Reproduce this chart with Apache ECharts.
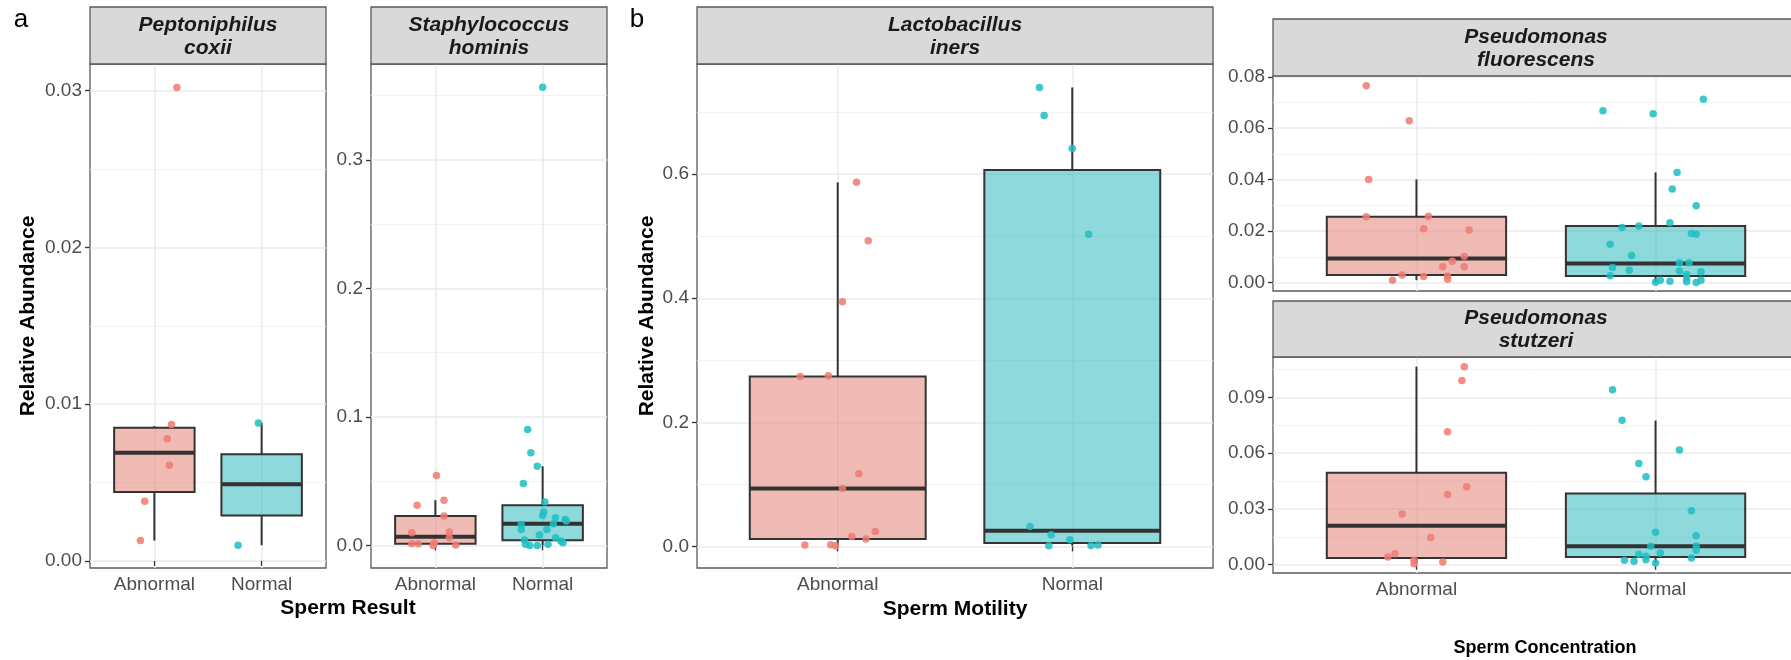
<!DOCTYPE html>
<html><head><meta charset="utf-8">
<script src="https://cdn.jsdelivr.net/npm/echarts@6/dist/echarts.min.js"></script>
<style>html,body{margin:0;padding:0;background:#fff}#c{width:1791px;height:660px}</style>
</head><body><div id="c"></div><script>
// ---------------- DATA ----------------
const categories = ['Abnormal', 'Normal'];

// a) Peptoniphilus coxii  (Sperm Result)
const peptAbnVals = [0.0302, 0.0087, 0.0078, 0.0061, 0.0038, 0.0013];
const peptAbnJit  = [0.21, 0.16, 0.12, 0.14, -0.09, -0.13];
const peptNorVals = [0.0088, 0.0010];
const peptNorJit  = [-0.03, -0.22];
const peptAbnBox  = [0.0013, 0.0044, 0.0069, 0.0085, 0.0086]; // min,q1,median,q3,max(whisker)
const peptNorBox  = [0.0010, 0.0029, 0.0049, 0.0068, 0.0088];
const peptTicks = [0, 0.01, 0.02, 0.03];
const peptTickLabels = ['0.00', '0.01', '0.02', '0.03'];

// a) Staphylococcus hominis
const staphAbnVals = [0.0544, 0.0313, 0.0352, 0.0228, 0.0098, 0.0104, 0.0060, 0.0013, 0.0013, 0.0000, 0.0020, 0.0003];
const staphAbnJit  = [0.01, -0.17, 0.08, 0.08, -0.22, 0.13, 0.13, -0.22, -0.16, -0.02, -0.01, 0.19];
const staphNorVals = [0.3565, 0.0901, 0.0720, 0.0616, 0.0482, 0.0337, 0.0259, 0.0233, 0.0215, 0.0202, 0.0189, 0.0163, 0.0168, 0.0124, 0.0124, 0.0080, 0.0041, 0.0060, 0.0034, 0.0021, 0.0008, 0.0000, 0.0000, 0.0008];
const staphNorJit  = [0.00, -0.14, -0.11, -0.05, -0.18, 0.02, 0.01, 0.00, 0.12, 0.21, 0.22, -0.20, 0.10, -0.20, 0.04, -0.03, -0.17, 0.12, 0.17, 0.19, -0.16, -0.12, -0.05, 0.05];
const staphAbnBox  = [0.0000, 0.0013, 0.0067, 0.0228, 0.0352];
const staphNorBox  = [0.0000, 0.0039, 0.0168, 0.0313, 0.0616];
const staphTicks = [0, 0.1, 0.2, 0.3];
const staphTickLabels = ['0.0', '0.1', '0.2', '0.3'];

// b) Lactobacillus iners (Sperm Motility)
const lactoAbnVals = [0.5868, 0.4928, 0.3945, 0.2738, 0.2749, 0.1170, 0.0934, 0.0242, 0.0161, 0.0119, 0.0022, 0.0027, 0.0011];
const lactoAbnJit  = [0.08, 0.13, 0.02, -0.16, -0.04, 0.09, 0.02, 0.16, 0.06, 0.12, -0.14, -0.03, -0.01];
const lactoNorVals = [0.7398, 0.6947, 0.6415, 0.5030, 0.0322, 0.0188, 0.0108, 0.0010, 0.0013, 0.0021];
const lactoNorJit  = [-0.14, -0.12, 0.00, 0.07, -0.18, -0.09, -0.01, -0.10, 0.08, 0.11];
const lactoAbnBox  = [0.0011, 0.0119, 0.0934, 0.2738, 0.5868];
const lactoNorBox  = [0.0010, 0.0055, 0.0253, 0.6066, 0.7398];
const lactoTicks = [0, 0.2, 0.4, 0.6];
const lactoTickLabels = ['0.0', '0.2', '0.4', '0.6'];

// b) Pseudomonas fluorescens (Sperm Concentration)
const fluorAbnVals = [0.0765, 0.0629, 0.0401, 0.0256, 0.0258, 0.0209, 0.0204, 0.0102, 0.0083, 0.0061, 0.0061, 0.0029, 0.0023, 0.0025, 0.0013, 0.0009];
const fluorAbnJit  = [-0.21, -0.03, -0.20, -0.21, 0.05, 0.03, 0.22, 0.20, 0.15, 0.11, 0.20, -0.06, 0.03, 0.13, 0.13, -0.10];
const fluorNorVals = [0.0668, 0.0656, 0.0713, 0.0428, 0.0364, 0.0298, 0.0232, 0.0220, 0.0214, 0.0191, 0.0188, 0.0149, 0.0105, 0.0077, 0.0077, 0.0058, 0.0048, 0.0045, 0.0042, 0.0031, 0.0026, 0.0016, 0.0009, 0.0005, 0.0001, 0.0003, 0.0000, 0.0009];
const fluorNorJit  = [-0.22, -0.01, 0.20, 0.09, 0.07, 0.17, 0.06, -0.07, -0.14, 0.15, 0.17, -0.19, -0.10, 0.10, 0.14, -0.18, -0.11, 0.10, 0.19, 0.13, -0.19, 0.13, 0.02, 0.06, 0.00, 0.13, 0.17, 0.19];
const fluorAbnBox  = [0.0009, 0.0029, 0.0093, 0.0256, 0.0401];
const fluorNorBox  = [0.0000, 0.0025, 0.0074, 0.0220, 0.0428];
const fluorTicks = [0, 0.02, 0.04, 0.06, 0.08];
const fluorTickLabels = ['0.00', '0.02', '0.04', '0.06', '0.08'];

// b) Pseudomonas stutzeri
const stutzAbnVals = [0.1066, 0.0992, 0.0715, 0.0419, 0.0378, 0.0272, 0.0146, 0.0059, 0.0041, 0.0023, 0.0005, 0.0014];
const stutzAbnJit  = [0.20, 0.19, 0.13, 0.21, 0.13, -0.06, 0.06, -0.09, -0.12, -0.01, -0.01, 0.11];
const stutzNorVals = [0.0942, 0.0778, 0.0617, 0.0545, 0.0473, 0.0290, 0.0175, 0.0155, 0.0099, 0.0101, 0.0077, 0.0063, 0.0056, 0.0045, 0.0027, 0.0023, 0.0018, 0.0036, 0.0009];
const stutzNorJit  = [-0.18, -0.14, 0.10, -0.07, -0.04, 0.15, 0.00, 0.17, -0.02, 0.17, 0.17, 0.02, -0.07, -0.04, -0.04, -0.13, -0.09, 0.15, 0.00];
const stutzAbnBox  = [0.0005, 0.0036, 0.0209, 0.0495, 0.1066];
const stutzNorBox  = [0.0009, 0.0041, 0.0099, 0.0383, 0.0776];
const stutzTicks = [0, 0.03, 0.06, 0.09];
const stutzTickLabels = ['0.00', '0.03', '0.06', '0.09'];

// ---------------- LAYOUT / STYLE ----------------
const FONT = '"Liberation Sans", Arial, Helvetica, sans-serif';
const COL = ['#EE7B72', '#1DBEC3'];
const FILL = ['rgba(225,117,107,0.5)', 'rgba(29,179,185,0.5)'];
const LINE = '#333333';
const BORDER = '#5a5a5a';

const panels = [
  {strip: 'Peptoniphilus\ncoxii', left: 90, top: 64, width: 236, height: 504, stripTop: 7,
   yMin: -0.00045, yMax: 0.0317, ticks: peptTicks, labels: peptTickLabels, step: 0.01,
   abn: [peptAbnVals, peptAbnJit], nor: [peptNorVals, peptNorJit], boxes: [peptAbnBox, peptNorBox], xLabels: true},
  {strip: 'Staphylococcus\nhominis', left: 371, top: 64, width: 236, height: 504, stripTop: 7,
   yMin: -0.0176, yMax: 0.3746, ticks: staphTicks, labels: staphTickLabels, step: 0.1,
   abn: [staphAbnVals, staphAbnJit], nor: [staphNorVals, staphNorJit], boxes: [staphAbnBox, staphNorBox], xLabels: true},
  {strip: 'Lactobacillus\niners', left: 697, top: 64, width: 516, height: 504, stripTop: 7,
   yMin: -0.0348, yMax: 0.7776, ticks: lactoTicks, labels: lactoTickLabels, step: 0.2,
   abn: [lactoAbnVals, lactoAbnJit], nor: [lactoNorVals, lactoNorJit], boxes: [lactoAbnBox, lactoNorBox], xLabels: true},
  {strip: 'Pseudomonas\nfluorescens', left: 1273, top: 76, width: 526, height: 215, stripTop: 19,
   yMin: -0.0033, yMax: 0.0803, ticks: fluorTicks, labels: fluorTickLabels, step: 0.02,
   abn: [fluorAbnVals, fluorAbnJit], nor: [fluorNorVals, fluorNorJit], boxes: [fluorAbnBox, fluorNorBox], xLabels: false},
  {strip: 'Pseudomonas\nstutzeri', left: 1273, top: 357, width: 526, height: 216, stripTop: 301,
   yMin: -0.0045, yMax: 0.1118, ticks: stutzTicks, labels: stutzTickLabels, step: 0.03,
   abn: [stutzAbnVals, stutzAbnJit], nor: [stutzNorVals, stutzNorJit], boxes: [stutzAbnBox, stutzNorBox], xLabels: true}
];

function renderBox(params, api) {
  const x = api.value(0);
  const lo = api.value(1), q1 = api.value(2), md = api.value(3), q3 = api.value(4), hi = api.value(5);
  const half = 0.375;
  const tl = api.coord([x - half, q3]);
  const br = api.coord([x + half, q1]);
  const ml = api.coord([x - half, md]);
  const mr = api.coord([x + half, md]);
  const ph = api.coord([x, hi]);
  const pl = api.coord([x, lo]);
  const ci = params.dataIndex;
  return {type: 'group', children: [
    {type: 'line', shape: {x1: ph[0], y1: ph[1], x2: ph[0], y2: tl[1]}, style: {stroke: LINE, lineWidth: 2}},
    {type: 'line', shape: {x1: pl[0], y1: pl[1], x2: pl[0], y2: br[1]}, style: {stroke: LINE, lineWidth: 2}},
    {type: 'rect', shape: {x: tl[0], y: tl[1], width: br[0] - tl[0], height: br[1] - tl[1]},
     style: {fill: FILL[ci], stroke: LINE, lineWidth: 2}},
    {type: 'line', shape: {x1: ml[0], y1: ml[1], x2: mr[0], y2: mr[1]}, style: {stroke: LINE, lineWidth: 4}}
  ]};
}

const grid = [], xAxis = [], yAxis = [], series = [], graphic = [];
panels.forEach((p, i) => {
  grid.push({left: p.left, top: p.top, width: p.width, height: p.height, show: true,
    backgroundColor: '#fff', borderColor: BORDER, borderWidth: 1.3, outerBoundsMode: 'none', containLabel: false});
  xAxis.push({type: 'value', gridIndex: i, min: 0.4, max: 2.6,
    axisLine: {show: false},
    axisTick: {show: p.xLabels, length: 5, lineStyle: {color: LINE, width: 1.3}, customValues: [1, 2]},
    axisLabel: {show: p.xLabels, customValues: [1, 2], margin: 7, color: '#4D4D4D', fontSize: 19, fontFamily: FONT,
      formatter: v => categories[Math.round(v) - 1]},
    splitLine: {show: true, lineStyle: {color: '#EBEBEB', width: 1.5}}});
  const minors = p.ticks.map(t => t + p.step / 2).filter(t => t < p.yMax);
  yAxis.push({type: 'value', gridIndex: i, min: p.yMin, max: p.yMax,
    axisLine: {show: false},
    axisTick: {show: true, length: 5, lineStyle: {color: LINE, width: 1.3}, customValues: p.ticks},
    axisLabel: {customValues: p.ticks, margin: 8, color: '#4D4D4D', fontSize: 19, fontFamily: FONT,
      formatter: v => { const k = p.ticks.findIndex(t => Math.abs(t - v) < 1e-9); return k >= 0 ? p.labels[k] : ''; }},
    splitLine: {show: true, lineStyle: {color: '#EBEBEB', width: 1.5}}});
  yAxis.push({type: 'value', gridIndex: i, min: p.yMin, max: p.yMax, position: 'left',
    axisLine: {show: false},
    axisTick: {show: false, customValues: minors},
    axisLabel: {show: false, customValues: minors},
    splitLine: {show: true, lineStyle: {color: '#F3F3F3', width: 1}}});
  const yIdx = yAxis.length - 2;
  series.push({type: 'custom', xAxisIndex: i, yAxisIndex: yIdx, renderItem: renderBox, z: 2, silent: true,
    encode: {x: 0, y: [1, 2, 3, 4, 5]},
    data: p.boxes.map((b, k) => [k + 1].concat(b))});
  [p.abn, p.nor].forEach((g, k) => {
    series.push({type: 'scatter', xAxisIndex: i, yAxisIndex: yIdx, z: 3, symbolSize: 7.5, silent: true,
      itemStyle: {color: COL[k], opacity: 0.85},
      data: g[0].map((v, j) => [k + 1 + g[1][j], v])});
  });
  graphic.push({type: 'rect', z: 10, shape: {x: p.left, y: p.stripTop, width: p.width, height: p.top - p.stripTop},
    style: {fill: '#D9D9D9', stroke: BORDER, lineWidth: 1.3}});
  graphic.push({type: 'text', z: 11, x: p.left + p.width / 2, y: (p.stripTop + p.top) / 2 + 1,
    style: {text: p.strip, fill: '#1A1A1A', fontSize: 21, fontWeight: 'bold', fontStyle: 'italic', fontFamily: FONT,
      align: 'center', verticalAlign: 'middle', lineHeight: 23}});
});

const txt = (s, x, y, size, weight, rot) => ({type: 'text', z: 11, x, y, rotation: rot || 0,
  style: {text: s, fill: '#000', fontSize: size, fontWeight: weight, fontFamily: FONT, align: 'center', verticalAlign: 'middle'}});
graphic.push(txt('a', 21, 20, 26, 'normal'));
graphic.push(txt('b', 637, 20, 26, 'normal'));
graphic.push(txt('Relative Abundance', 28, 316, 21, 'bold', Math.PI / 2));
graphic.push(txt('Relative Abundance', 647, 316, 21, 'bold', Math.PI / 2));
graphic.push(txt('Sperm Result', 348, 608, 21, 'bold'));
graphic.push(txt('Sperm Motility', 955, 609, 21, 'bold'));
graphic.push(txt('Sperm Concentration', 1545, 648, 18, 'bold'));

const chart = echarts.init(document.getElementById('c'), null, {renderer: 'canvas'});
chart.setOption({animation: false, backgroundColor: '#fff', grid, xAxis, yAxis, series, graphic});
</script></body></html>
